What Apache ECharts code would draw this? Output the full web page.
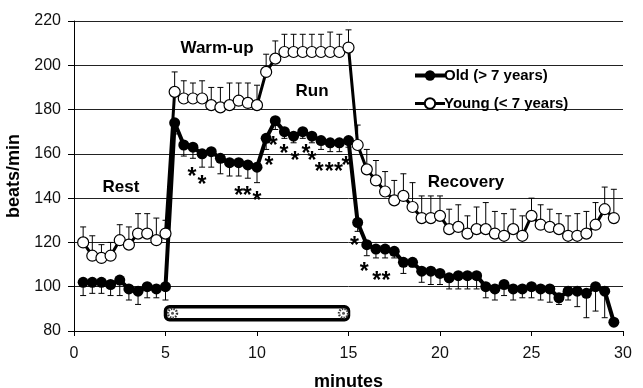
<!DOCTYPE html>
<html>
<head>
<meta charset="utf-8">
<script src="https://cdn.jsdelivr.net/npm/echarts@6/dist/echarts.min.js"></script>
<style>
  html, body { margin: 0; padding: 0; background: #fff; }
  #chart { width: 643px; height: 388px; }
</style>
</head>
<body>
<div id="chart"></div>
<script>
// Sampling times (minutes)
const minutes = [
  0.5, 1, 1.5, 2, 2.5, 3, 3.5, 4, 4.5, 5,
  5.5, 6, 6.5, 7, 7.5, 8, 8.5, 9, 9.5, 10,
  10.5, 11, 11.5, 12, 12.5, 13, 13.5, 14, 14.5, 15,
  15.5, 16, 16.5, 17, 17.5, 18, 18.5, 19, 19.5, 20,
  20.5, 21, 21.5, 22, 22.5, 23, 23.5, 24, 24.5, 25,
  25.5, 26, 26.5, 27, 27.5, 28, 28.5, 29, 29.5
];

// Mean heart rate, old horses (> 7 years)
const oldHR = [
  102, 102, 102, 101, 103, 99, 98, 100, 99, 100,
  174, 164, 163, 160, 161, 158, 156, 156, 155, 154,
  167, 175, 170, 168, 170, 168, 166, 165, 165, 166,
  129, 119, 117, 117, 116, 111, 111, 107, 107, 106,
  104, 105, 105, 105, 100, 99, 101, 99, 99, 100,
  99, 99, 95, 98, 98, 97, 100, 98, 84
];
// Standard error, old (drawn downward)
const oldErr = [
  6, 5, 5, 5, 7, 5, 6, 5, 4, 6,
  5, 5, 5, 6, 7, 7, 6, 6, 6, 7,
  5, 4, 3, 3, 3, 3, 4, 4, 4, 3,
  4, 5, 4, 4, 3, 5, 2, 5, 6, 5,
  5, 6, 6, 6, 5, 5, 5, 5, 4, 5,
  5, 6, 3, 4, 7, 11, 11, 12, 0
];

// Mean heart rate, young horses (< 7 years)
const youngHR = [
  120, 114, 113, 114, 121, 119, 124, 124, 121, 124,
  188, 185, 185, 185, 182, 181, 182, 184, 183, 182,
  197, 203, 206, 206, 206, 206, 206, 206, 206, 208,
  164, 153, 148, 143, 139, 141, 136, 131, 131, 132,
  126, 127, 124, 126, 126, 124, 123, 126, 123, 132,
  128, 127, 126, 123, 123, 124, 128, 135, 131
];
// Standard error, young (drawn upward)
const youngErr = [
  7, 9, 6, 6, 7, 8, 9, 9, 10, 6,
  9, 8, 7, 8, 8, 9, 10, 8, 9, 9,
  8, 8, 8, 8, 8, 8, 8, 9, 8, 8,
  9, 9, 9, 9, 9, 10, 11, 10, 10, 9,
  9, 10, 8, 10, 12, 10, 10, 9, 9, 8,
  9, 8, 7, 9, 10, 10, 10, 10, 13
];

// Significant differences between groups: [minute, bpm]
const asteriskAt = [
  [6.45, 151.9], [7.0, 148.4],
  [9.0, 143.3], [9.47, 143.3], [10.0, 141.3],
  [10.66, 156.8], [10.88, 165.8],
  [11.48, 162.4], [12.08, 159.4], [12.67, 162.4], [13.0, 159.4],
  [13.4, 154.4], [13.95, 154.4], [14.45, 154.4], [14.86, 157.1],
  [15.32, 121.0], [15.86, 109.0], [16.54, 105.2], [17.05, 105.2]
];

// Treadmill running period (minutes)
const treadmillSpan = [5, 15];

const xTicks = [0, 5, 10, 15, 20, 25, 30];
const yTicks = [80, 100, 120, 140, 160, 180, 200, 220];

const seriesNames = ['Old (> 7 years)', 'Young (< 7 years)'];
const phaseNames = ['Rest', 'Warm-up', 'Run', 'Recovery'];

const FONT = '"Liberation Sans", Arial, Helvetica, sans-serif';

function errorBars(name, values, errs, dir) {
  return {
    type: 'custom',
    name: name,
    z: 1,
    silent: true,
    data: minutes.map((m, i) => [m, values[i], errs[i]]),
    encode: { x: 0, y: 1 },
    renderItem: function (params, api) {
      const x = api.value(0), v = api.value(1), e = api.value(2);
      if (!e) return null;
      const p0 = api.coord([x, v]);
      const p1 = api.coord([x, v + dir * e]);
      const hw = 3;
      const st = { stroke: '#000', lineWidth: 1 };
      return {
        type: 'group',
        children: [
          { type: 'line', shape: { x1: p0[0], y1: p0[1], x2: p1[0], y2: p1[1] }, style: st },
          { type: 'line', shape: { x1: p1[0] - hw, y1: p1[1], x2: p1[0] + hw, y2: p1[1] }, style: st }
        ]
      };
    }
  };
}

const chart = echarts.init(document.getElementById('chart'), null, { renderer: 'canvas' });

chart.setOption({
  animation: false,
  backgroundColor: '#fff',
  grid: { left: 74, right: 20, top: 21, bottom: 57, containLabel: false, outerBoundsMode: 'none' },
  xAxis: {
    type: 'value',
    min: xTicks[0], max: xTicks[xTicks.length - 1], interval: xTicks[1] - xTicks[0],
    name: 'minutes', nameLocation: 'middle', nameGap: 42,
    nameTextStyle: { fontFamily: FONT, fontSize: 18, fontWeight: 'bold', color: '#000' },
    axisLine: { lineStyle: { color: '#000', width: 1 } },
    axisTick: { show: true, inside: false, length: 5, lineStyle: { color: '#000' } },
    axisLabel: { fontFamily: FONT, fontSize: 16, color: '#111', margin: 15 },
    splitLine: { show: false }
  },
  yAxis: {
    type: 'value',
    min: yTicks[0], max: yTicks[yTicks.length - 1], interval: yTicks[1] - yTicks[0],
    name: 'beats/min', nameLocation: 'middle', nameGap: 47, nameRotate: 90,
    nameTextStyle: { fontFamily: FONT, fontSize: 18, fontWeight: 'bold', color: '#000' },
    axisLine: { show: true, lineStyle: { color: '#000', width: 1 } },
    axisTick: { show: true, inside: false, length: 6, lineStyle: { color: '#000' } },
    axisLabel: { fontFamily: FONT, fontSize: 16, color: '#111', margin: 13 },
    splitLine: { show: true, lineStyle: { color: '#222', width: 1 } }
  },
  legend: {
    data: [
      { name: seriesNames[0], lineStyle: { width: 4 } },
      { name: seriesNames[1], lineStyle: { width: 3 } }
    ],
    orient: 'vertical',
    left: 408, top: 63,
    itemWidth: 30, itemHeight: 13, itemGap: 13,
    textStyle: { fontFamily: FONT, fontSize: 15, fontWeight: 'bold', color: '#000', padding: [0, 0, 0, -6] }
  },
  series: [
    errorBars('oldErrorBars', oldHR, oldErr, -1),
    errorBars('youngErrorBars', youngHR, youngErr, 1),
    {
      type: 'custom',
      name: 'treadmill',
      z: 1,
      silent: true,
      data: [treadmillSpan],
      encode: { x: [0, 1] },
      renderItem: function (params, api) {
        const level = 88;
        const a = api.coord([api.value(0), level]);
        const b = api.coord([api.value(1), level]);
        const h = 13;
        const wheel = (cx) => ([
          { type: 'circle', shape: { cx: cx, cy: a[1], r: 4.5 }, style: { fill: '#fff', stroke: '#333', lineWidth: 2.4, lineDash: [1.5, 1.2] } },
          { type: 'circle', shape: { cx: cx, cy: a[1], r: 1.5 }, style: { fill: '#555' } }
        ]);
        return {
          type: 'group',
          children: [
            { type: 'rect', shape: { x: a[0], y: a[1] - h / 2, width: b[0] - a[0], height: h, r: 4 },
              style: { fill: '#fff', stroke: '#000', lineWidth: 3.5 } }
          ].concat(wheel(a[0] + 7), wheel(b[0] - 5))
        };
      }
    },
    {
      type: 'line',
      name: seriesNames[0],
      z: 3,
      data: minutes.map((m, i) => [m, oldHR[i]]),
      symbol: 'circle', symbolSize: 11,
      itemStyle: { color: '#000' },
      lineStyle: { color: '#000', width: 4 }
    },
    {
      type: 'line',
      name: seriesNames[1],
      z: 4,
      data: minutes.map((m, i) => [m, youngHR[i]]),
      symbol: 'circle', symbolSize: 11,
      itemStyle: { color: '#fff', borderColor: '#000', borderWidth: 1.2 },
      lineStyle: { color: '#000', width: 3 }
    },
    {
      type: 'custom',
      name: 'significance',
      z: 5,
      silent: true,
      data: asteriskAt,
      encode: { x: 0, y: 1 },
      renderItem: function (params, api) {
        const p = api.coord([api.value(0), api.value(1)]);
        return {
          type: 'text',
          x: p[0], y: p[1] + 6,
          style: { text: '*', fontFamily: FONT, fontSize: 23, fontWeight: 'bold', fill: '#000',
                   textAlign: 'center', textVerticalAlign: 'middle' }
        };
      }
    }
  ],
  graphic: [
    { type: 'text', x: 121, y: 187, style: { text: phaseNames[0], fontFamily: FONT, fontSize: 17, fontWeight: 'bold', fill: '#000', textAlign: 'center', textVerticalAlign: 'middle' } },
    { type: 'text', x: 217, y: 48, style: { text: phaseNames[1], fontFamily: FONT, fontSize: 17, fontWeight: 'bold', fill: '#000', textAlign: 'center', textVerticalAlign: 'middle' } },
    { type: 'text', x: 312, y: 91, style: { text: phaseNames[2], fontFamily: FONT, fontSize: 17, fontWeight: 'bold', fill: '#000', textAlign: 'center', textVerticalAlign: 'middle' } },
    { type: 'text', x: 466, y: 182, style: { text: phaseNames[3], fontFamily: FONT, fontSize: 17, fontWeight: 'bold', fill: '#000', textAlign: 'center', textVerticalAlign: 'middle' } }
  ]
});
</script>
</body>
</html>
